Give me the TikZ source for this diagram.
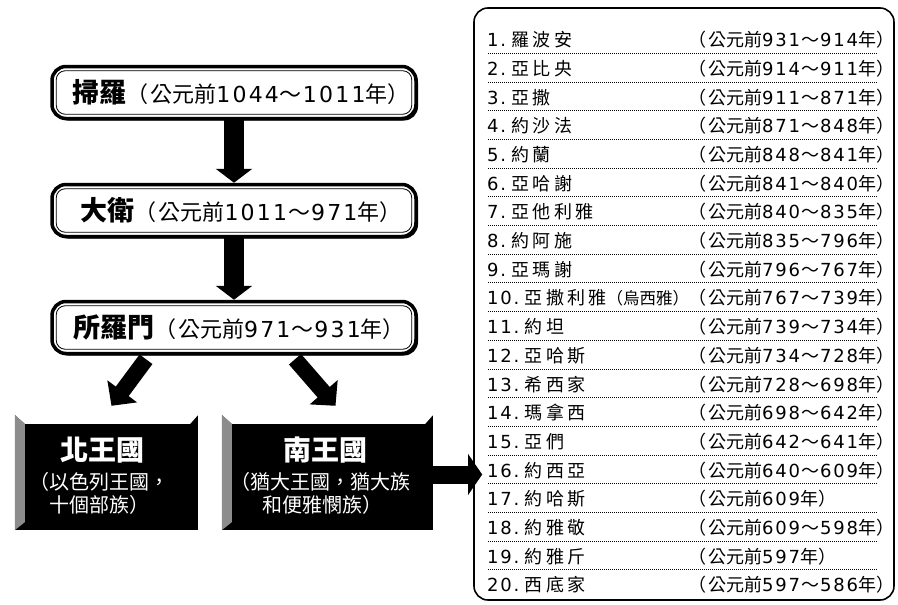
\documentclass[tikz,border=0pt]{standalone}
\usepackage{fontspec}
\setmainfont{Noto Sans CJK TC}
\newfontfamily\numf{DejaVu Sans}[LetterSpace=10]
\newfontfamily\namef{Noto Sans CJK TC}[LetterSpace=18]
\usetikzlibrary{arrows.meta, positioning, calc, shadows}

\newcommand\reign[2]{（\kern2pt 公元前{\numf #1}\kern1pt～\kern1pt{\numf #2}年）}
\newcommand\reignone[1]{（\kern2pt 公元前{\numf #1}年）}
\def\single{-}

\tikzset{
  kingbox/.style={draw, line width=3.5pt, fill=white, rounded corners=14pt,
    minimum width=364pt, minimum height=52pt, inner sep=0pt,
    drop shadow={shadow xshift=2pt, shadow yshift=-2pt, fill=black, opacity=1}},
  innerline/.style={line width=0.8pt, rounded corners=9pt},
  kingdom/.style={fill=black, minimum height=115pt, inner sep=0pt},
  kingtitle/.style={text=white, inner sep=0pt, font=\bfseries\fontsize{28}{28}\selectfont},
  kingnote/.style={text=white, inner sep=0pt, anchor=west, align=left,
    font=\fontsize{20}{23}\selectfont},
  bevel/.style={fill=black!45},
  listframe/.style={draw, line width=1.6pt, rounded corners=14pt,
    minimum width=420pt, minimum height=592pt},
  bigarrow/.style={line width=20pt, -{Triangle[length=14pt, width=36pt]}},
  splitarrow/.style={line width=16pt, -{Triangle[length=18pt, width=36pt]}},
  sidearrow/.style={line width=18pt, -{Triangle[length=14pt, width=40pt]}},
  reignrow/.style={anchor=west, inner sep=0pt, font=\fontsize{18}{18}\selectfont},
  rowline/.style={dash pattern=on 1pt off 1pt, line width=0.9pt},
}

\begin{document}
\begin{tikzpicture}[x=1pt, y=-1pt]
  \useasboundingbox (0,0) rectangle (898,605);
  % United kingdom
  \node[kingbox] (saul) at (234,92.5)
    {\kern14pt{\bfseries\fontsize{27}{27}\selectfont 掃羅}{\fontsize{22}{22}\selectfont\reign{1044}{1011}}};
  \node[kingbox] (david) at (234,210.5)
    {\kern14pt{\bfseries\fontsize{27}{27}\selectfont 大衛}{\fontsize{22}{22}\selectfont\reign{1011}{971}}};
  \node[kingbox] (solomon) at (234,327.5)
    {\kern10pt{\bfseries\fontsize{27}{27}\selectfont 所羅門}{\fontsize{22}{22}\selectfont\reign{971}{931}}};
  \foreach \k in {saul, david, solomon}
    \draw[innerline] ($(\k.south west)+(6,-6)$) rectangle ($(\k.north east)+(-6,6)$);
  \draw[bigarrow] (saul) -- (david);
  \draw[bigarrow] (david) -- (solomon);
  % Divided kingdom
  \node[kingdom, minimum width=183pt] (israel) at (106.5,472.5) {};
  \node[kingdom, minimum width=211pt] (judah) at (327.5,472.5) {};
  \foreach \k in {israel, judah} {
    \fill[white] (\k.north west) -- (\k.north east) -- ++(-8,9)
      -- ($(\k.north west)+(10,9)$) -- cycle;
    \fill[bevel] (\k.north west) -- ($(\k.north west)+(10,9)$)
      -- ($(\k.south west)+(10,-8)$) -- (\k.south west) -- cycle;
  }
  \node[kingtitle] (israeltitle) at (102,450) {北王國};
  \node[kingnote] (israelnote) at (29,493.5) {（以色列王國，\\\hspace*{20pt}十個部族）};
  \node[kingtitle] (judahtitle) at (325,450) {南王國};
  \node[kingnote] (judahnote) at (230,493.5) {（猶大王國，猶大族\\\hspace*{32pt}和便雅憫族）};
  \draw[splitarrow] ($(solomon.south)+(-88,4)$) -- ($(israel.north)+(5,-9)$);
  \draw[splitarrow] ($(solomon.south)+(61,4)$) -- ($(judah.north)+(8,-9)$);
  % Kings of Judah
  \node[listframe] (reigns) at (684,304) {};
  \foreach \nm/\ya/\yb [count=\i] in {羅波安/931/914, 亞比央/914/911, 亞撒/911/871,
      約沙法/871/848, 約蘭/848/841, 亞哈謝/841/840, 亞他利雅/840/835, 約阿施/835/796,
      亞瑪謝/796/767, 亞撒利雅{\rmfamily\fontsize{16.5}{16.5}\selectfont（烏西雅）}/767/739,
      約坦/739/734, 亞哈斯/734/728, 希西家/728/698, 瑪拿西/698/642, 亞們/642/641,
      約西亞/640/609, 約哈斯/609/-, 約雅敬/609/598, 約雅斤/597/-, 西底家/597/586} {
    \pgfmathsetmacro\ry{40+(\i-1)*28.68}
    \node[reignrow] (king\i) at (487,\ry) {{\numf\i.} {\namef\nm}};
    \node[reignrow] (year\i) at (688,\ry)
      {\ifx\yb\single\reignone{\ya}\else\reign{\ya}{\yb}\fi};
    \ifnum\i<20 \draw[rowline] (488,\ry+13.5) -- (878,\ry+13.5); \fi
  }
  \draw[sidearrow] ($(judah.east)+(0,2)$) -- ($(judah.east -| reigns.west)+(9,2)$);
\end{tikzpicture}
\end{document}
